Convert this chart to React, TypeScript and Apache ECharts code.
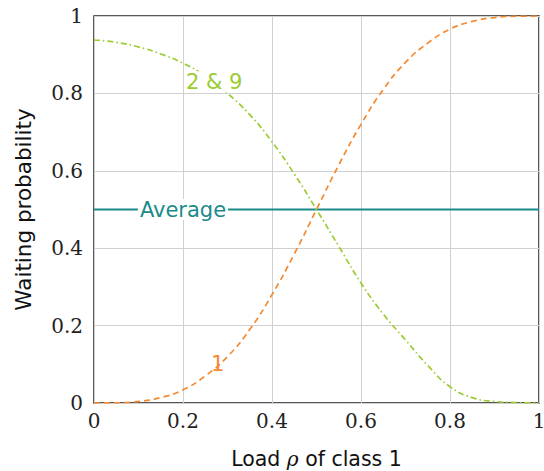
import React, { useEffect, useRef } from "react";
import * as echarts from "echarts";

const xs = [0, 0.05, 0.1, 0.15, 0.2, 0.25, 0.3, 0.35, 0.4, 0.45, 0.5, 0.55, 0.6, 0.65, 0.7, 0.75, 0.8, 0.85, 0.9, 0.95, 1];
const class1Vals = [0, 0.0005, 0.004, 0.014, 0.034, 0.07, 0.12, 0.19, 0.28, 0.385, 0.5, 0.615, 0.72, 0.81, 0.88, 0.93, 0.966, 0.986, 0.996, 0.9995, 1];
const class29Vals = [0.938, 0.932, 0.92, 0.902, 0.878, 0.845, 0.8, 0.745, 0.675, 0.592, 0.5, 0.405, 0.31, 0.23, 0.163, 0.097, 0.042, 0.014, 0.004, 0.001, 0];
const averageVals = xs.map(() => 0.5);
const xTicks = [0, 0.2, 0.4, 0.6, 0.8, 1];
const yTicks = [0, 0.2, 0.4, 0.6, 0.8, 1];

const ORANGE = "#f5892f";
const GREEN = "#9bcc32";
const TEAL = "#1b8a8a";
const SANS = "DejaVu Sans";
const SERIF = "DejaVu Serif";

function fmtTick(v: number) {
  if (v === 0) return "0";
  if (v === 1) return "1";
  return String(Math.round(v * 10) / 10);
}

function pts(vals: number[]) {
  return xs.map((x, i) => [x, vals[i]]);
}

function labelPoint(name: string, coord: number[], color: string) {
  return {
    symbol: "circle",
    symbolSize: 1,
    itemStyle: { color: "rgba(0,0,0,0)" },
    data: [
      {
        coord,
        label: {
          show: true,
          position: "inside",
          formatter: name,
          color,
          fontFamily: SANS,
          fontSize: 21,
          backgroundColor: "#fff",
          padding: [0, 2, 0, 2],
        },
      },
    ],
  };
}

export default function App() {
  const ref = useRef<HTMLDivElement>(null);
  useEffect(() => {
    if (!ref.current) return;
    const chart = echarts.init(ref.current, undefined, { renderer: "svg" });
    chart.setOption({
      animation: false,
      backgroundColor: "#fff",
      grid: {
        left: 94,
        top: 16,
        right: 5,
        bottom: 68,
        outerBoundsMode: "none",
        containLabel: false,
        show: true,
        borderColor: "#222",
        borderWidth: 1.5,
        backgroundColor: "transparent",
      },
      xAxis: {
        type: "value",
        min: 0,
        max: 1,
        interval: 0.2,
        name: "{a|Load }{r|ρ}{a| of class 1}",
        nameLocation: "middle",
        nameGap: 45,
        nameTextStyle: {
          rich: {
            a: { fontFamily: SANS, fontSize: 20.5, color: "#111" },
            r: { fontFamily: SERIF, fontStyle: "italic", fontSize: 20, color: "#111" },
          },
        },
        axisLine: { show: false },
        axisTick: { show: false },
        splitLine: { show: true, lineStyle: { color: "#d0d0d0", width: 1 } },
        axisLabel: {
          fontFamily: SERIF,
          fontSize: 20,
          color: "#222",
          margin: 8,
          formatter: (v: number) => (xTicks.some((t) => Math.abs(t - v) < 1e-9) ? fmtTick(v) : ""),
        },
      },
      yAxis: {
        type: "value",
        min: 0,
        max: 1,
        interval: 0.2,
        name: "Waiting probability",
        nameLocation: "middle",
        nameGap: 60,
        nameTextStyle: { fontFamily: SANS, fontSize: 21.5, color: "#111" },
        axisLine: { show: false },
        axisTick: { show: false },
        splitLine: { show: true, lineStyle: { color: "#d0d0d0", width: 1 } },
        axisLabel: {
          fontFamily: SERIF,
          fontSize: 20,
          color: "#222",
          margin: 11,
          formatter: (v: number) => (yTicks.some((t) => Math.abs(t - v) < 1e-9) ? fmtTick(v) : ""),
        },
      },
      series: [
        {
          type: "line",
          name: "Average",
          data: pts(averageVals),
          showSymbol: false,
          lineStyle: { color: TEAL, width: 2 },
          z: 3,
          markPoint: labelPoint("Average", [0.2, 0.5], TEAL),
        },
        {
          type: "line",
          name: "2 & 9",
          data: pts(class29Vals),
          smooth: true,
          showSymbol: false,
          lineStyle: { color: GREEN, width: 1.7, type: [6, 3, 1.5, 3] },
          z: 4,
          markPoint: labelPoint("2 & 9", [0.27, 0.83], GREEN),
        },
        {
          type: "line",
          name: "1",
          data: pts(class1Vals),
          smooth: true,
          showSymbol: false,
          lineStyle: { color: ORANGE, width: 1.7, type: [6, 4] },
          z: 5,
          markPoint: labelPoint("1", [0.278, 0.1], ORANGE),
        },
      ],
    });
    return () => chart.dispose();
  }, []);
  return <div ref={ref} style={{ width: 544, height: 471, position: "absolute", left: 0, top: 0 }} />;
}
